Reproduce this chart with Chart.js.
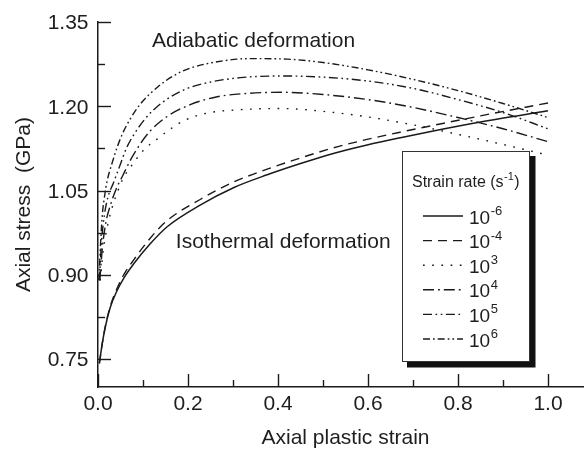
<!DOCTYPE html>
<html>
<head>
<meta charset="utf-8">
<script src="https://cdn.jsdelivr.net/npm/chart.js@4.4.1/dist/chart.umd.min.js"></script>
<style>
  html, body { margin: 0; padding: 0; background: #fff; overflow: hidden; }
  #wrap { width: 596px; height: 449px; }
</style>
</head>
<body>
<div id="wrap"><canvas id="c" width="596" height="449"></canvas></div>
<script>
// Axial stress (GPa) against axial plastic strain, one curve per strain rate.

// Isothermal curves (strain rates 1e-6 and 1e-4 s^-1) share their strain samples
const strainIso = [0.003, 0.009, 0.016, 0.027, 0.042, 0.058, 0.079, 0.116, 0.153, 0.227, 0.301, 0.376, 0.45, 0.523, 0.598, 0.672, 0.745, 0.85, 1.0];
const stressRateM6 = [0.742, 0.775, 0.806, 0.841, 0.871, 0.895, 0.919, 0.955, 0.985, 1.024, 1.055, 1.078, 1.098, 1.116, 1.131, 1.144, 1.156, 1.172, 1.192];
const stressRateM4 = [0.742, 0.775, 0.807, 0.843, 0.875, 0.901, 0.926, 0.965, 0.996, 1.034, 1.065, 1.088, 1.108, 1.126, 1.141, 1.154, 1.166, 1.183, 1.206];

// Adiabatic curves (strain rates 1e3 .. 1e6 s^-1)
const strainRate3 = [0.005, 0.012, 0.022, 0.033, 0.045, 0.056, 0.078, 0.1, 0.132, 0.16, 0.19, 0.243, 0.316, 0.41, 0.5, 0.6, 0.7, 0.8, 0.9, 1.0];
const stressRate3 = [0.89, 0.945, 0.99, 1.024, 1.051, 1.072, 1.098, 1.121, 1.142, 1.159, 1.174, 1.188, 1.194, 1.196, 1.191, 1.181, 1.167, 1.150, 1.132, 1.113];

const strainRate4 = [0.004, 0.010, 0.018, 0.028, 0.040, 0.054, 0.072, 0.094, 0.116, 0.154, 0.205, 0.265, 0.332, 0.41, 0.5, 0.6, 0.7, 0.8, 0.9, 1.0];
const stressRate4 = [0.89, 0.95, 0.995, 1.025, 1.052, 1.075, 1.104, 1.133, 1.156, 1.182, 1.203, 1.217, 1.223, 1.225, 1.221, 1.212, 1.198, 1.180, 1.160, 1.137];

const strainRate5 = [0.003, 0.008, 0.014, 0.022, 0.034, 0.048, 0.063, 0.08, 0.105, 0.14, 0.19, 0.243, 0.316, 0.41, 0.5, 0.6, 0.7, 0.8, 0.9, 1.0];
const stressRate5 = [0.89, 0.96, 1.005, 1.038, 1.063, 1.093, 1.125, 1.150, 1.178, 1.205, 1.229, 1.242, 1.251, 1.254, 1.252, 1.245, 1.232, 1.212, 1.189, 1.160];

const strainRate6 = [0.002, 0.006, 0.010, 0.015, 0.020, 0.031, 0.043, 0.056, 0.072, 0.094, 0.132, 0.167, 0.205, 0.278, 0.338, 0.42, 0.5, 0.6, 0.7, 0.8, 0.9, 1.0];
const stressRate6 = [0.89, 0.96, 1.01, 1.042, 1.066, 1.098, 1.128, 1.154, 1.178, 1.204, 1.234, 1.254, 1.268, 1.281, 1.285, 1.284, 1.278, 1.265, 1.248, 1.228, 1.205, 1.180];

// Legend text: base and exponent of each strain rate
const rateBases = ['10', '10', '10', '10', '10', '10'];
const rateExponents = ['-6', '-4', '3', '4', '5', '6'];

// Tick values
const xMajorTicks = [0, 0.2, 0.4, 0.6, 0.8, 1.0];
const xMinorTicks = [0.1, 0.3, 0.5, 0.7, 0.9, 1.1];
const yMajorTicks = [0.75, 0.90, 1.05, 1.20, 1.35];
const yMinorTicks = [0.825, 0.975, 1.125, 1.275];

const FONT = "'Liberation Sans', Arial, Helvetica, sans-serif";
const INK = '#1a1a1a';

function pairs(xs, ys) { return xs.map((x, i) => ({ x: x, y: ys[i] })); }

const dashStyles = [
  [],                                   // 1e-6 solid
  [9, 6],                               // 1e-4 dashed
  [1.7, 7.5],                           // 1e3 dotted
  [11, 4, 1.8, 4],                      // 1e4 dash-dot
  [9, 3.5, 1.7, 3.5, 1.7, 3.5],         // 1e5 dash-dot-dot
  [7, 3, 1.7, 3, 7, 3, 1.7, 3, 1.7, 3]  // 1e6 dash-dot-dash-dot-dot
];

const seriesData = [
  pairs(strainIso, stressRateM6),
  pairs(strainIso, stressRateM4),
  pairs(strainRate3, stressRate3),
  pairs(strainRate4, stressRate4),
  pairs(strainRate5, stressRate5),
  pairs(strainRate6, stressRate6)
];

const datasets = seriesData.map((d, i) => ({
  label: rateBases[i] + '^' + rateExponents[i],
  data: d,
  borderColor: INK,
  borderWidth: i === 0 ? 1.5 : 1.4,
  borderDash: dashStyles[i],
  pointRadius: 0,
  fill: false,
  cubicInterpolationMode: 'monotone'
}));

// Inward tick marks, curve labels and the boxed legend
const decorations = {
  id: 'decorations',
  afterDatasetsDraw(chart) {
    const ctx = chart.ctx;
    const xs = chart.scales.x, ys = chart.scales.y;
    const area = chart.chartArea;
    ctx.save();
    ctx.strokeStyle = INK;
    ctx.lineWidth = 1.4;
    ctx.setLineDash([]);
    const tick = (isX, v, len) => {
      ctx.beginPath();
      if (isX) {
        const px = Math.round(xs.getPixelForValue(v)) + 0.5;
        ctx.moveTo(px, area.bottom); ctx.lineTo(px, area.bottom - len);
      } else {
        const py = Math.round(ys.getPixelForValue(v)) + 0.5;
        ctx.moveTo(area.left, py); ctx.lineTo(area.left + len, py);
      }
      ctx.stroke();
    };
    xMajorTicks.forEach(v => tick(true, v, 13));
    xMinorTicks.forEach(v => tick(true, v, 7));
    yMajorTicks.forEach(v => tick(false, v, 13));
    yMinorTicks.forEach(v => tick(false, v, 7));

    // curve group labels
    ctx.fillStyle = '#1e1e1e';
    ctx.font = '21px ' + FONT;
    ctx.textBaseline = 'alphabetic';
    ctx.textAlign = 'left';
    ctx.fillText('Adiabatic deformation', xs.getPixelForValue(0.12), ys.getPixelForValue(1.3056));
    ctx.fillText('Isothermal deformation', xs.getPixelForValue(0.173), ys.getPixelForValue(0.9482));

    // legend box with drop shadow
    const bx = 402, by = 151, bw = 127, bh = 210;
    ctx.fillStyle = '#111';
    ctx.fillRect(bx + 5, by + 5, bw + 1.5, bh + 1.5);
    ctx.fillStyle = '#fff';
    ctx.fillRect(bx, by, bw, bh);
    ctx.strokeStyle = '#333';
    ctx.lineWidth = 1;
    ctx.strokeRect(bx + 0.5, by + 0.5, bw, bh);

    ctx.fillStyle = '#1e1e1e';
    ctx.font = '16px ' + FONT;
    let tx = 412;
    const tb = 187;
    ctx.fillText('Strain rate (s', tx, tb);
    tx += ctx.measureText('Strain rate (s').width;
    ctx.font = '11px ' + FONT;
    ctx.fillText('-1', tx + 0.5, tb - 7);
    tx += ctx.measureText('-1').width + 1;
    ctx.font = '16px ' + FONT;
    ctx.fillText(')', tx, tb);

    chart.data.datasets.forEach((ds, i) => {
      const ly = 216 + i * 24.6;
      ctx.strokeStyle = INK;
      ctx.lineWidth = ds.borderWidth;
      ctx.setLineDash(ds.borderDash);
      ctx.beginPath();
      ctx.moveTo(423, ly); ctx.lineTo(463, ly);
      ctx.stroke();
      ctx.setLineDash([]);
      ctx.fillStyle = '#1e1e1e';
      ctx.font = '19px ' + FONT;
      ctx.fillText(rateBases[i], 469, ly + 7.5);
      const w = ctx.measureText(rateBases[i]).width;
      ctx.font = '13px ' + FONT;
      ctx.fillText(rateExponents[i], 469 + w + 0.5, ly - 1);
    });
    ctx.restore();
  }
};

new Chart(document.getElementById('c'), {
  type: 'line',
  data: { datasets: datasets },
  options: {
    responsive: false,
    animation: false,
    devicePixelRatio: 1,
    layout: { padding: { top: 17, right: 3, bottom: 0, left: 0 } },
    plugins: { legend: { display: false }, tooltip: { enabled: false } },
    scales: {
      x: {
        type: 'linear',
        min: 0,
        max: 1.1,
        afterBuildTicks: s => { s.ticks = xMajorTicks.map(v => ({ value: v })); },
        afterFit: s => { s.height = 62; },
        grid: { display: false, drawTicks: false },
        border: { display: true, color: INK, width: 1.5 },
        ticks: {
          autoSkip: false, maxRotation: 0, padding: 5, color: '#1e1e1e',
          font: { family: FONT, size: 21 },
          callback: v => Number(v).toFixed(1)
        },
        title: {
          display: true, text: 'Axial plastic strain', color: '#1e1e1e',
          font: { family: FONT, size: 21, lineHeight: 1 },
          padding: { top: 0, bottom: 0 }
        }
      },
      y: {
        type: 'linear',
        min: 0.70,
        max: 1.35,
        afterBuildTicks: s => { s.ticks = yMajorTicks.map(v => ({ value: v })); },
        afterFit: s => { s.width = 98; },
        grid: { display: false, drawTicks: false },
        border: { display: true, color: INK, width: 1.5 },
        ticks: {
          autoSkip: false, padding: 9.5, color: '#1e1e1e', labelOffset: 1.5,
          font: { family: FONT, size: 21 },
          callback: v => Number(v).toFixed(2)
        },
        title: {
          display: true, text: 'Axial stress  (GPa)', color: '#1e1e1e',
          font: { family: FONT, size: 21, lineHeight: 1 },
          padding: { top: 13.8, bottom: 0 }
        }
      }
    }
  },
  plugins: [decorations]
});
</script>
</body>
</html>
